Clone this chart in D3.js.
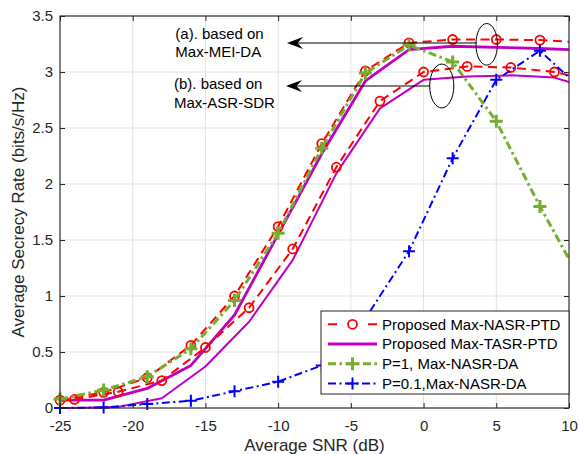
<!DOCTYPE html>
<html><head><meta charset="utf-8">
<script src="https://cdn.jsdelivr.net/npm/d3@7"></script>
<style>
body{margin:0;background:#fff}
svg{display:block}
text{font-family:"Liberation Sans",Arial,Helvetica,sans-serif}
</style>
</head><body>
<svg id="chart" width="579" height="454"></svg>
<script>
// ---------- data ----------
const xTicks = [-25,-20,-15,-10,-5,0,5,10];
const yTicks = [0,0.5,1,1.5,2,2.5,3,3.5];

// SNR grids (dB)
const snrA = [-25,-22,-19,-16,-13,-10,-7,-4,-1,2,5,8,10];
const snrB = [-25,-24,-21,-18,-15,-12,-9,-6,-3,0,3,6,9,10];
const markA = [-25,-22,-19,-16,-13,-10,-7,-4,-1,2,5,8];
const markB = [-24,-21,-18,-15,-12,-9,-6,-3,0,3,6,9];

// Proposed Max-NASR-PTD  (a) based on Max-MEI-DA, (b) based on Max-ASR-SDR
const nasrA = [0.07,0.14,0.27,0.56,1.00,1.62,2.36,3.01,3.26,3.29,3.29,3.285,3.27];
const nasrB = [0.065,0.077,0.145,0.245,0.54,0.895,1.42,2.15,2.74,3.00,3.05,3.04,3.00,2.97];
// Proposed Max-TASR-PTD
const tasrA = [0.07,0.07,0.175,0.38,0.83,1.55,2.27,2.92,3.20,3.23,3.22,3.21,3.20];
const tasrB = [0.0,0.0,0.01,0.087,0.37,0.77,1.32,2.095,2.675,2.93,2.96,2.97,2.95,2.91];
// P=1, Max-NASR-DA
const p1DA  = [0.08,0.16,0.28,0.53,0.96,1.56,2.32,2.99,3.24,3.09,2.56,1.80,1.33];
// P=0.1, Max-NASR-DA
const p01DA = [0.0,0.005,0.035,0.065,0.15,0.235,0.38,0.80,1.40,2.23,2.93,3.19,2.95];

const legendLabels = ["Proposed Max-NASR-PTD","Proposed Max-TASR-PTD","P=1, Max-NASR-DA","P=0.1,Max-NASR-DA"];
const xLabel = "Average SNR (dB)";
const yLabel = "Average Secrecy Rate (bits/s/Hz)";
const noteA = ["(a). based on","Max-MEI-DA"];
const noteB = ["(b). based on","Max-ASR-SDR"];

// ---------- setup ----------
const svg = d3.select("#chart");
const L=60, T=16, R=569, B=408;
const x = d3.scaleLinear().domain([-25,10]).range([L,R]);
const y = d3.scaleLinear().domain([0,3.5]).range([B,T]);
const axisCol = "#262626";

const zip = (xs, ys) => xs.map((v,i)=>({x:v,y:ys[i]}));

// grid
const grid = svg.append("g");
grid.selectAll("line.gx").data(xTicks).join("line")
  .attr("x1",d=>x(d)).attr("x2",d=>x(d)).attr("y1",B).attr("y2",T)
  .attr("stroke","#e2e2e2").attr("stroke-width",1);
grid.selectAll("line.gy").data(yTicks).join("line")
  .attr("y1",d=>y(d)).attr("y2",d=>y(d)).attr("x1",L).attr("x2",R)
  .attr("stroke","#e2e2e2").attr("stroke-width",1);

// lines
const line = d3.line().x(d=>x(d.x)).y(d=>y(d.y));
const plot = svg.append("g");

const series = [
  {xs:snrB, ys:tasrB, color:"#bf00bf", w:2.0, dash:null, marker:null, marks:null},
  {xs:snrA, ys:tasrA, color:"#bf00bf", w:2.8, dash:null, marker:null, marks:null},
  {xs:snrB, ys:nasrB, color:"#ff0000", w:2.0, dash:"9,5.5", marker:"o", marks:markB},
  {xs:snrA, ys:nasrA, color:"#ff0000", w:2.0, dash:"9,5.5", marker:"o", marks:markA},
  {xs:snrA, ys:p01DA, color:"#0000ff", w:2.0, dash:"8,3.5,2,3.5", marker:"+", marks:markA, ms:6, mw:2},
  {xs:snrA, ys:p1DA,  color:"#77ac30", w:3.0, dash:"8,3.5,2.5,3.5", marker:"+", marks:markA, ms:6.5, mw:3}
];

function drawMarker(g, type, cx, cy, color, ms, mw){
  if(type==="o"){
    g.append("circle").attr("cx",cx).attr("cy",cy).attr("r",4.5)
      .attr("fill","none").attr("stroke",color).attr("stroke-width",1.8);
  } else if(type==="+"){
    g.append("path").attr("d",`M${cx-ms},${cy}H${cx+ms}M${cx},${cy-ms}V${cy+ms}`)
      .attr("stroke",color).attr("stroke-width",mw).attr("fill","none");
  }
}

series.forEach(s=>{
  const pts = zip(s.xs, s.ys);
  plot.append("path").attr("d",line(pts)).attr("fill","none")
    .attr("stroke",s.color).attr("stroke-width",s.w)
    .attr("stroke-dasharray",s.dash).attr("stroke-linejoin","round");
  if(s.marker){
    const mg = plot.append("g");
    pts.filter(p=>s.marks.includes(p.x)).forEach(p=>drawMarker(mg,s.marker,x(p.x),y(p.y),s.color,s.ms,s.mw));
  }
});

// axes (inside ticks, box)
const fmt = d=>String(d);
const ax = svg.append("g");
const gb = ax.append("g").attr("transform",`translate(0,${B})`)
  .call(d3.axisBottom(x).tickValues(xTicks).tickSize(-5).tickPadding(12.5).tickFormat(fmt));
const gt = ax.append("g").attr("transform",`translate(0,${T})`)
  .call(d3.axisTop(x).tickValues(xTicks).tickSize(-5).tickFormat(""));
const gl = ax.append("g").attr("transform",`translate(${L},0)`)
  .call(d3.axisLeft(y).tickValues(yTicks).tickSize(-5).tickPadding(7).tickFormat(fmt));
const gr = ax.append("g").attr("transform",`translate(${R},0)`)
  .call(d3.axisRight(y).tickValues(yTicks).tickSize(-5).tickFormat(""));
[gb,gt,gl,gr].forEach(g=>{
  g.select(".domain").remove();
  g.selectAll(".tick line").attr("stroke",axisCol).attr("stroke-width",1);
  g.selectAll(".tick text").attr("fill",axisCol).style("font-size","15px")
    .style("font-family","'Liberation Sans',Arial,sans-serif");
});
ax.append("rect").attr("x",L).attr("y",T).attr("width",R-L).attr("height",B-T)
  .attr("fill","none").attr("stroke",axisCol).attr("stroke-width",1.1);

// axis labels
svg.append("text").attr("x",(L+R)/2).attr("y",451).attr("text-anchor","middle")
  .attr("fill",axisCol).style("font-size","17px").text(xLabel);
svg.append("text").attr("transform",`translate(24,${(T+B)/2}) rotate(-90)`)
  .attr("text-anchor","middle").attr("fill",axisCol).style("font-size","17px").text(yLabel);

// annotations
const ann = svg.append("g");
function arrow(x0, x1, yv){
  const tx = x(x1), ty = y(yv), sx = x(x0);
  ann.append("line").attr("x1",sx).attr("x2",tx+8).attr("y1",ty).attr("y2",ty)
    .attr("stroke","#000").attr("stroke-width",1);
  ann.append("path").attr("d",`M${tx},${ty}L${tx+16},${ty-6}L${tx+10.5},${ty}L${tx+16},${ty+6}Z`)
    .attr("fill","#000");
}
function ellipse(cx, cy, rxd, ryd){
  ann.append("ellipse").attr("cx",x(cx)).attr("cy",y(cy))
    .attr("rx",x(cx+rxd)-x(cx)).attr("ry",y(cy)-y(cy+ryd))
    .attr("fill","none").attr("stroke","#000").attr("stroke-width",1);
}
arrow(3.67, -9.39, 3.259);
ellipse(4.34, 3.247, 0.74, 0.186);
arrow(0.44, -9.46, 2.875);
ellipse(1.25, 2.875, 0.83, 0.196);

function note(lines, xd, yd){
  const t = ann.append("text").attr("x",x(xd)).attr("y",y(yd)).attr("fill","#000").style("font-size","15px");
  lines.forEach((s,i)=>t.append("tspan").attr("x",x(xd)).attr("dy",i?18.3:0).text(s));
}
note(noteA, -17.07, 3.295);
note(noteB, -17.16, 2.845);

// legend
const lg = svg.append("g");
lg.append("rect").attr("x",321).attr("y",311).attr("width",248).attr("height",83)
  .attr("fill","#fff").attr("stroke",axisCol).attr("stroke-width",1);
const legDefs = [
  {color:"#ff0000", w:2.0, dash:"9,31,9", marker:"o"},
  {color:"#bf00bf", w:2.8, dash:null, marker:null},
  {color:"#77ac30", w:3.0, dash:"8,3.5,2.5,3.5", marker:"+", ms:6.5, mw:3},
  {color:"#0000ff", w:2.0, dash:"8,3.5,2,3.5", marker:"+", ms:6, mw:2}
];
legDefs.forEach((d,i)=>{
  const cy = 324.3 + i*19.7;
  lg.append("line").attr("x1",328).attr("x2",377).attr("y1",cy).attr("y2",cy)
    .attr("stroke",d.color).attr("stroke-width",d.w).attr("stroke-dasharray",d.dash);
  if(d.marker) drawMarker(lg,d.marker,352.5,cy,d.color,d.ms,d.mw);
  lg.append("text").attr("x",382).attr("y",cy+5.2).attr("fill","#000")
    .style("font-size","15px").text(legendLabels[i]);
});
</script>
</body></html>
